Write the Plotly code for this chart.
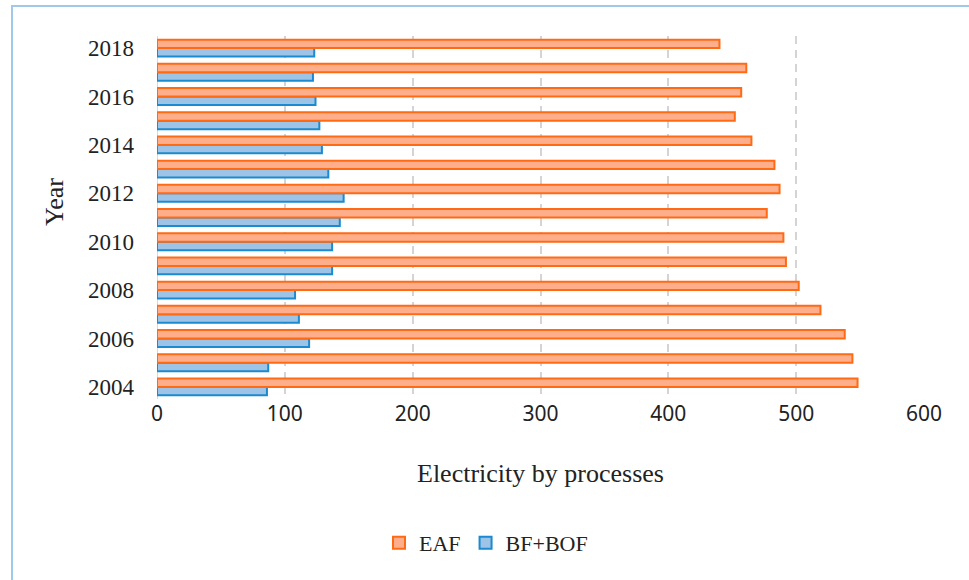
import plotly.graph_objects as go

# Electricity use by steelmaking route, 2004-2018
years = [2004, 2005, 2006, 2007, 2008, 2009, 2010, 2011,
         2012, 2013, 2014, 2015, 2016, 2017, 2018]
eaf = [548, 544, 538, 519, 502, 492, 490, 477,
       487, 483, 465, 452, 457, 461, 440]
bf_bof = [86, 87, 119, 111, 108, 137, 137, 143,
          146, 134, 129, 127, 124, 122, 123]

year_ticks = [2004, 2006, 2008, 2010, 2012, 2014, 2016, 2018]
x_ticks = [0, 100, 200, 300, 400, 500, 600]

SERIF = "Liberation Serif"
SANS = "Noto Sans"

W, H = 969, 580
L, R, T, B = 157, 45, 36, 181
pw, ph = W - L - R, H - T - B


def px_to_paper_x(px):
    return (px - L) / pw


def px_to_paper_y(py):
    return (H - B - py) / ph


fig = go.Figure()

# BF+BOF added first so it sits below EAF within each year group
fig.add_trace(go.Bar(
    y=years, x=bf_bof, orientation="h", name="BF+BOF",
    marker=dict(color="#9dc3e6", line=dict(color="#1a8bd0", width=2)),
    legendrank=2,
))
fig.add_trace(go.Bar(
    y=years, x=eaf, orientation="h", name="EAF",
    marker=dict(color="#ffae8c", line=dict(color="#ff6a14", width=2)),
    legendrank=1,
))

fig.update_layout(
    width=W, height=H,
    margin=dict(l=L, r=R, t=T, b=B, pad=0),
    paper_bgcolor="white", plot_bgcolor="white",
    barmode="group", bargap=0.3, bargroupgap=0,
    showlegend=True,
    legend=dict(
        orientation="h", x=px_to_paper_x(486), xanchor="center",
        y=px_to_paper_y(543), yanchor="middle",
        font=dict(family=SERIF, size=22, color="#222"),
        itemwidth=30, traceorder="normal",
    ),
    xaxis=dict(
        range=[0, 600], tickvals=x_ticks,
        showgrid=True, gridcolor="#d4d4d4", gridwidth=1.5, griddash="8px,6px",
        zeroline=True, zerolinecolor="#d9d9d9", zerolinewidth=1,
        showline=False, ticks="",
        tickfont=dict(family=SANS, size=21, color="#222"),
    ),
    yaxis=dict(
        range=[2003.5, 2018.5], tickvals=year_ticks,
        showgrid=False, zeroline=False, showline=False,
        ticks="", ticklabelstandoff=22,
        tickfont=dict(family=SERIF, size=23, color="#222"),
    ),
    annotations=[
        dict(text="Electricity by processes", xref="paper", yref="paper",
             x=0.5, y=px_to_paper_y(473), xanchor="center", yanchor="middle",
             showarrow=False, font=dict(family=SERIF, size=26, color="#222")),
        dict(text="Year", xref="paper", yref="paper", textangle=-90,
             x=px_to_paper_x(55), y=px_to_paper_y(202),
             xanchor="center", yanchor="middle",
             showarrow=False, font=dict(family=SERIF, size=26, color="#222")),
    ],
    shapes=[
        dict(type="rect", xref="paper", yref="paper", layer="below",
             x0=px_to_paper_x(12), x1=px_to_paper_x(990),
             y0=px_to_paper_y(600), y1=px_to_paper_y(6),
             line=dict(color="#9fc8ea", width=2), fillcolor="rgba(0,0,0,0)"),
    ],
)

fig.write_html("out.html")
